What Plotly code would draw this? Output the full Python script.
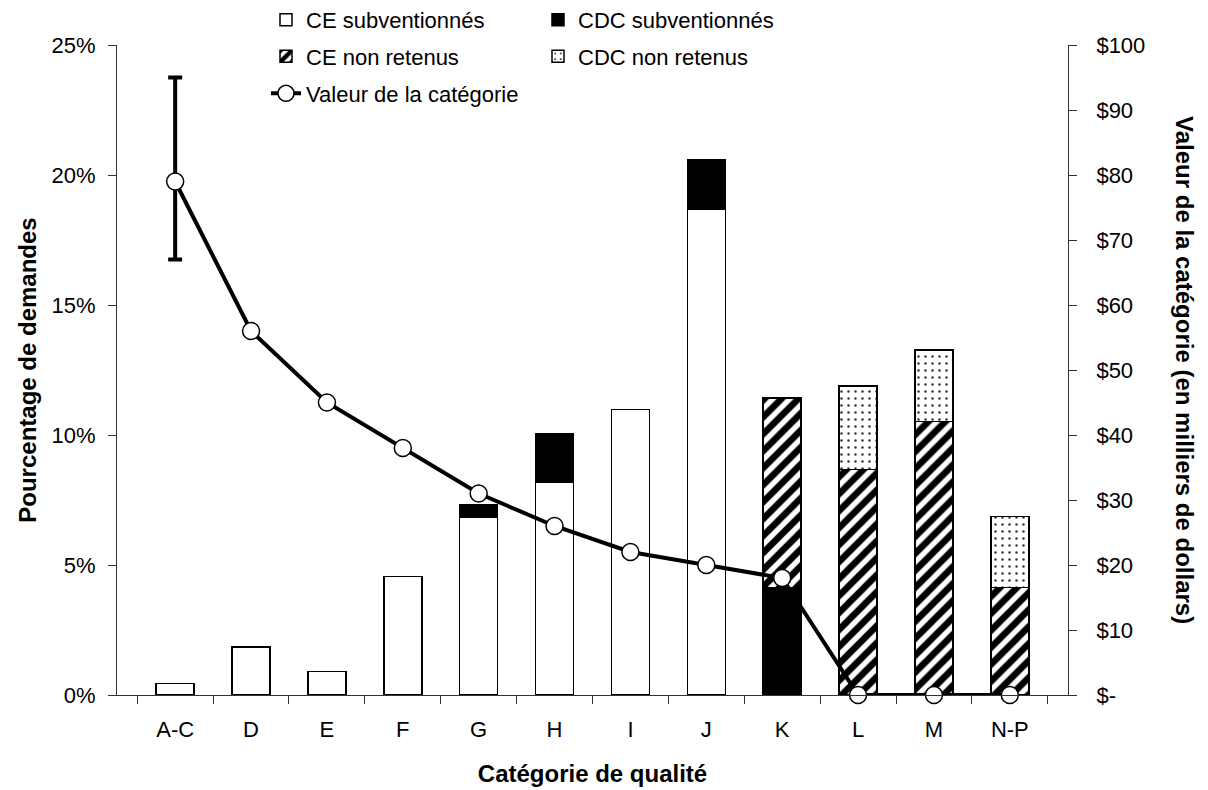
import plotly.graph_objects as go

categories = ["A-C", "D", "E", "F", "G", "H", "I", "J", "K", "L", "M", "N-P"]
ce_subv = [0.45, 1.85, 0.9, 4.55, 6.82, 8.2, 10.98, 18.67, None, None, None, None]
cdc_subv = [None, None, None, None, 0.5, 1.86, None, 1.9, 4.13, None, None, None]
ce_non_retenus = [None, None, None, None, None, None, None, None, 7.3, 8.68, 10.51, 4.13]
cdc_non_retenus = [None, None, None, None, None, None, None, None, None, 3.2, 2.75, 2.73]
valeur = [79, 56, 45, 38, 31, 26, 22, 20, 18, 0, 0, 0]
err_plus = [16, None, None, None, None, None, None, None, None, None, None, None]
err_minus = [12, None, None, None, None, None, None, None, None, None, None, None]

left_ticks = [0, 5, 10, 15, 20, 25]
left_ticktext = ["0%", "5%", "10%", "15%", "20%", "25%"]
right_ticks = [0, 10, 20, 30, 40, 50, 60, 70, 80, 90, 100]
right_ticktext = ["$-", "$10", "$20", "$30", "$40", "$50", "$60", "$70", "$80", "$90", "$100"]

FONT = "Liberation Sans, Arial, sans-serif"
W, H = 1208, 790
# page has an 8px body margin: figure pixel = page pixel - 8
L, R, T, B = 109, 148, 37, 103
pw = W - L - R
ph = H - T - B

def px_x(x):
    return (x - L) / pw

def px_y(y):
    return (H - B - y) / ph

bar_line = dict(color="black", width=1.5)

fig = go.Figure()
fig.add_trace(go.Bar(
    x=categories, y=ce_subv, name="CE subventionnés",
    marker=dict(color="white", line=bar_line), legend="legend",
))
fig.add_trace(go.Bar(
    x=categories, y=cdc_subv, name="CDC subventionnés",
    marker=dict(color="black", line=bar_line), legend="legend2",
))
fig.add_trace(go.Bar(
    x=categories, y=ce_non_retenus, name="CE non retenus",
    marker=dict(color="white", line=bar_line,
                pattern=dict(shape="/", fgcolor="#000000", bgcolor="white",
                             fgopacity=1, fillmode="replace",
                             size=12, solidity=0.55)),
    legend="legend3",
))
fig.add_trace(go.Bar(
    x=categories, y=cdc_non_retenus, name="CDC non retenus",
    marker=dict(color="white", line=bar_line,
                pattern=dict(shape=".", fgcolor="#333333", bgcolor="white",
                             fgopacity=1, fillmode="replace",
                             size=7, solidity=0.1)),
    legend="legend4",
))
fig.add_trace(go.Scatter(
    x=categories, y=valeur, name="Valeur de la catégorie", yaxis="y2",
    mode="lines+markers", cliponaxis=False,
    line=dict(color="black", width=4),
    marker=dict(symbol="circle", size=17, color="white",
                line=dict(color="black", width=1.5)),
    error_y=dict(type="data", symmetric=False, array=err_plus,
                 arrayminus=err_minus, color="black", thickness=4, width=7),
    legend="legend5",
))

leg_common = dict(font=dict(family=FONT, size=22, color="black"),
                  bgcolor="rgba(0,0,0,0)", xanchor="left", yanchor="middle",
                  itemwidth=30, tracegroupgap=0, visible=True)

fig.update_layout(
    width=W, height=H,
    margin=dict(l=L, r=R, t=T, b=B, autoexpand=False),
    paper_bgcolor="white", plot_bgcolor="white",
    barmode="stack", bargap=0.5, showlegend=True,
    font=dict(family=FONT, size=22, color="black"),
    legend=dict(x=px_x(258), y=px_y(12), **leg_common),
    legend2=dict(x=px_x(530), y=px_y(12), **leg_common),
    legend3=dict(x=px_x(258), y=px_y(48.5), **leg_common),
    legend4=dict(x=px_x(530), y=px_y(48.5), **leg_common),
    legend5=dict(x=px_x(258), y=px_y(85.5), **leg_common),
    xaxis=dict(
        type="category", tickson="boundaries", ticks="outside", ticklen=8,
        tickcolor="#333", showline=True, linecolor="#333", linewidth=1,
        showgrid=False, tickfont=dict(size=22), ticklabelstandoff=15,
        automargin=False,
        title=dict(text="<b>Catégorie de qualité</b>", font=dict(size=24), standoff=23),
    ),
    yaxis=dict(
        range=[0, 25], tickvals=left_ticks, ticktext=left_ticktext,
        ticks="outside", ticklen=8, tickcolor="#333",
        showline=True, linecolor="#333", linewidth=1, showgrid=False,
        zeroline=False, tickfont=dict(size=22), automargin=False,
        ticklabelstandoff=8,
        title=dict(text="<b>Pourcentage de demandes</b>", font=dict(size=24), standoff=8),
    ),
    yaxis2=dict(
        range=[0, 100], overlaying="y", side="right",
        tickvals=right_ticks, ticktext=right_ticktext,
        ticks="outside", ticklen=8, tickcolor="#333",
        showline=True, linecolor="#333", linewidth=1, showgrid=False,
        zeroline=False, tickfont=dict(size=22), automargin=False,
        ticklabelstandoff=15,
    ),
    annotations=[dict(
        text="<b>Valeur de la catégorie (en milliers de dollars)</b>",
        xref="paper", yref="paper", x=px_x(1177), y=0.5, textangle=90,
        showarrow=False, font=dict(size=24, family=FONT, color="black"),
        xanchor="center", yanchor="middle",
    )],
)

fig.write_html("out.html")
